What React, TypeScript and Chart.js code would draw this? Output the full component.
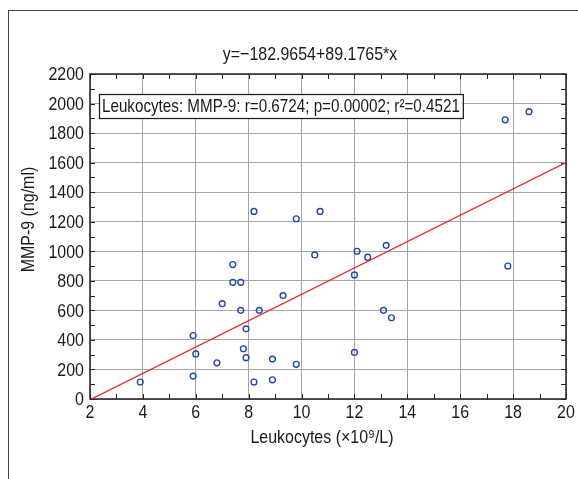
import { useEffect, useRef } from 'react';
import { Chart, registerables } from 'chart.js';

Chart.register(...registerables);

// ---- data ----
const leukocytes = [3.9, 5.9, 6.0, 5.9, 6.8, 7.0, 7.4, 7.4, 7.7, 7.7, 7.9, 7.8, 7.9, 8.2, 8.2, 8.4, 8.9, 8.9, 9.3, 9.8, 9.8, 10.5, 10.7, 12.0, 12.0, 12.1, 12.5, 13.2, 13.1, 13.4, 17.7, 18.6, 17.8];
const mmp9 = [115, 430, 305, 155, 245, 645, 910, 790, 790, 600, 475, 340, 280, 1270, 115, 600, 270, 130, 700, 1220, 235, 975, 1270, 840, 315, 1000, 960, 1040, 600, 550, 1890, 1945, 900];

const fitIntercept = -182.9654;
const fitSlope = 89.1765;
const fitRange = [2, 20];

const xMin = 2;
const xMax = 20;
const xMajor = 2;
const xMinor = 1;
const yMin = 0;
const yMax = 2200;
const yMajor = 200;
const yMinor = 100;

const titleText = 'y=\u2212182.9654+89.1765*x';
const statText = 'Leukocytes: MMP-9: r=0.6724; p=0.00002; r\u00B2=0.4521';
const xTitle = 'Leukocytes (\u00D710\u2079/L)';
const yTitle = 'MMP-9 (ng/ml)';

const FONT = '19px "Liberation Sans", Arial, sans-serif';
const NARROW = 0.84; // horizontal compression to mimic a condensed face
const STAT_NARROW = 0.8;
const TEXT = '#1a1a1a';

function narrowText(
  ctx: CanvasRenderingContext2D,
  text: string,
  x: number,
  y: number,
  align: 'left' | 'center' | 'right',
  k: number = NARROW
) {
  ctx.save();
  ctx.font = FONT;
  ctx.textBaseline = 'middle';
  ctx.textAlign = align;
  ctx.translate(x, y);
  ctx.scale(k, 1);
  ctx.fillText(text, 0, 0);
  ctx.restore();
}

function narrowWidth(ctx: CanvasRenderingContext2D, text: string, k: number) {
  ctx.save();
  ctx.font = FONT;
  const w = ctx.measureText(text).width * k;
  ctx.restore();
  return w;
}

const decor = {
  id: 'decor',
  beforeDatasetsDraw(chart: any) {
    const { ctx, chartArea: a, scales } = chart;
    const sx = scales.x;
    const sy = scales.y;
    ctx.save();
    ctx.strokeStyle = '#222';
    ctx.lineWidth = 1;
    ctx.beginPath();
    for (let v = xMin; v <= xMax; v += xMinor) {
      const px = Math.round(sx.getPixelForValue(v)) + 0.5;
      ctx.moveTo(px, a.bottom);
      ctx.lineTo(px, a.bottom - 5);
      ctx.moveTo(px, a.top);
      ctx.lineTo(px, a.top + 5);
    }
    for (let v = yMin; v <= yMax; v += yMinor) {
      const py = Math.round(sy.getPixelForValue(v)) + 0.5;
      ctx.moveTo(a.left, py);
      ctx.lineTo(a.left + 5, py);
      ctx.moveTo(a.right, py);
      ctx.lineTo(a.right - 5, py);
    }
    ctx.stroke();
    ctx.lineWidth = 1.5;
    ctx.strokeRect(a.left, a.top, a.right - a.left, a.bottom - a.top);
    ctx.restore();
  },
  afterDraw(chart: any) {
    const { ctx, chartArea: a, scales } = chart;
    const sx = scales.x;
    const sy = scales.y;
    const cx = (a.left + a.right) / 2;
    const cy = (a.top + a.bottom) / 2;
    ctx.save();
    ctx.fillStyle = TEXT;

    // tick labels from the scales' own ticks
    sx.ticks.forEach((t: any) => {
      narrowText(ctx, String(t.value), sx.getPixelForValue(t.value), a.bottom + 14, 'center');
    });
    sy.ticks.forEach((t: any) => {
      narrowText(ctx, String(t.value), a.left - 6, sy.getPixelForValue(t.value) + 1, 'right');
    });

    // titles
    narrowText(ctx, titleText, cx - 18, a.top - 19, 'center');
    narrowText(ctx, xTitle, cx - 6, a.bottom + 39, 'center');
    ctx.save();
    ctx.translate(20, cy - 17);
    ctx.rotate(-Math.PI / 2);
    narrowText(ctx, yTitle, 0, 0, 'center');
    ctx.restore();

    // statistics box
    const tw = narrowWidth(ctx, statText, STAT_NARROW);
    const bx = a.left + 9;
    const by = a.top + 20;
    const bw = tw + 6;
    const bh = 24;
    ctx.fillStyle = '#fff';
    ctx.fillRect(bx, by, bw, bh);
    ctx.strokeStyle = '#222';
    ctx.lineWidth = 1.3;
    ctx.strokeRect(bx + 0.5, by + 0.5, bw, bh);
    ctx.fillStyle = TEXT;
    narrowText(ctx, statText, bx + 3, by + bh / 2 + 1, 'left', STAT_NARROW);
    ctx.restore();
  },
};

export default function App() {
  const ref = useRef<HTMLCanvasElement | null>(null);

  useEffect(() => {
    if (!ref.current) return;
    const points = leukocytes.map((x, i) => ({ x, y: mmp9[i] }));
    const fit = fitRange.map((x) => ({ x, y: fitIntercept + fitSlope * x }));
    const chart = new Chart(ref.current, {
      type: 'scatter',
      data: {
        datasets: [
          {
            type: 'line',
            label: 'fit',
            data: fit,
            borderColor: '#e8262a',
            borderWidth: 1.4,
            pointRadius: 0,
            fill: false,
          } as any,
          {
            label: 'points',
            data: points,
            pointRadius: 2.9,
            pointBorderWidth: 1.4,
            pointBorderColor: '#2747a6',
            pointBackgroundColor: 'rgba(0,0,0,0)',
            borderColor: '#2747a6',
          },
        ],
      },
      options: {
        animation: false,
        responsive: false,
        maintainAspectRatio: false,
        layout: { padding: { top: 63, right: 12, left: 0, bottom: 0 } },
        plugins: {
          legend: { display: false },
          title: { display: false },
          tooltip: { enabled: false },
        },
        scales: {
          x: {
            type: 'linear',
            min: xMin,
            max: xMax,
            ticks: { stepSize: xMajor, display: false },
            grid: { color: '#a6a6a6', lineWidth: 1, drawTicks: false },
            border: { display: false },
            afterFit: (s: any) => {
              s.height = 80;
            },
          },
          y: {
            type: 'linear',
            min: yMin,
            max: yMax,
            ticks: { stepSize: yMajor, display: false },
            grid: { color: '#a6a6a6', lineWidth: 1, drawTicks: false },
            border: { display: false },
            afterFit: (s: any) => {
              s.width = 81;
            },
          },
        },
      },
      plugins: [decor],
    });
    return () => chart.destroy();
  }, []);

  return (
    <div
      style={{
        position: 'absolute',
        top: 10,
        left: 8,
        width: 570,
        height: 469,
        borderTop: '1px solid #444',
        borderLeft: '1px solid #444',
        boxSizing: 'border-box',
        overflow: 'hidden',
      }}
    >
      <canvas ref={ref} width={569} height={468} style={{ display: 'block' }} />
    </div>
  );
}
